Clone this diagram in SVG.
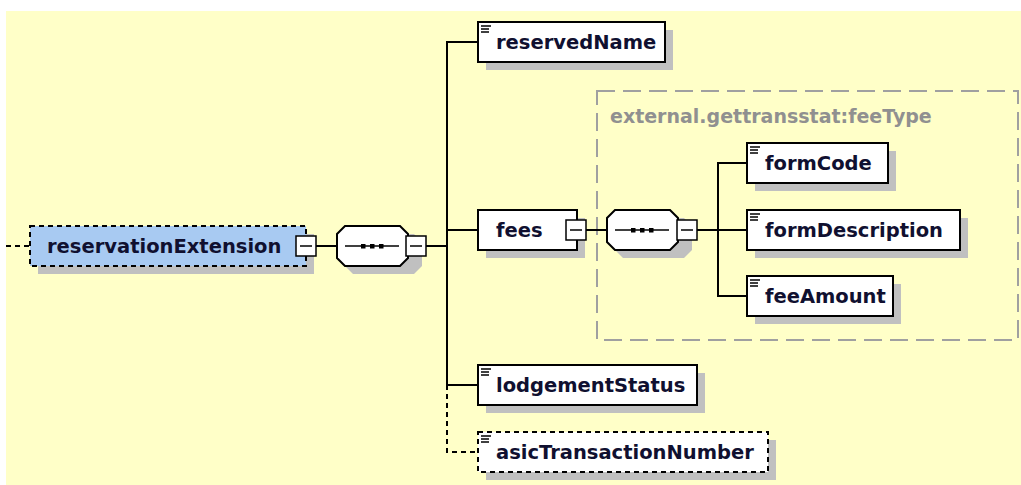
<svg xmlns="http://www.w3.org/2000/svg" width="1021" height="485" viewBox="0 0 1021 485">
<defs>
<style>
.bg{fill:#FFFFC8}
.box{fill:#FFFFFF;stroke:#000;stroke-width:2}
.opt{fill:#FFFFFF;stroke:#000;stroke-width:2;stroke-dasharray:5,4}
.root{fill:#A8CAF2;stroke:#000;stroke-width:2;stroke-dasharray:5,4}
.sh{fill:#C0C0C0}
.t{font-family:"DejaVu Sans",Verdana,sans-serif;font-weight:bold;font-size:19.5px;fill:#101030}
.lbl{font-family:"DejaVu Sans",Verdana,sans-serif;font-weight:bold;font-size:19px;fill:#909090}
.ln{stroke:#000;stroke-width:2;fill:none}
.dl{stroke:#000;stroke-width:2;fill:none;stroke-dasharray:5,4}
.ic{stroke:#000;stroke-width:1.5}
.btn{fill:#FFFFFF;stroke:#000;stroke-width:1.5}
.frame{fill:none;stroke:#A0A0A0;stroke-width:2;stroke-dasharray:18,8}
.dot{fill:#000}
</style>
<g id="icon"><line class="ic" x1="481" y1="26" x2="491" y2="26"/><line class="ic" x1="481" y1="29" x2="489" y2="29"/><line class="ic" x1="481" y1="32" x2="489" y2="32"/></g>
</defs>
<rect class="bg" x="6" y="11" width="1015" height="474"/>

<g id="frame-feeType">
<rect class="frame" x="597" y="91" width="421" height="249"/>
<text class="lbl" x="610" y="123">external.gettransstat:feeType</text>
</g>

<g id="connectors">
<line class="dl" x1="6" y1="246" x2="30" y2="246"/>
<line class="ln" x1="316" y1="246" x2="337" y2="246"/>
<line class="ln" x1="426" y1="246" x2="447" y2="246"/>
<line class="ln" x1="447" y1="41" x2="447" y2="385"/>
<path class="dl" d="M447 385 V452 H478"/>
<line class="ln" x1="446" y1="42" x2="478" y2="42"/>
<line class="ln" x1="447" y1="230" x2="478" y2="230"/>
<line class="ln" x1="447" y1="385" x2="478" y2="385"/>
<line class="ln" x1="586" y1="230" x2="607" y2="230"/>
<line class="ln" x1="697" y1="230" x2="718" y2="230"/>
<line class="ln" x1="718" y1="162" x2="718" y2="297"/>
<line class="ln" x1="717" y1="163" x2="747" y2="163"/>
<line class="ln" x1="718" y1="230" x2="747" y2="230"/>
<line class="ln" x1="717" y1="296" x2="747" y2="296"/>
</g>

<g id="node-reservationExtension">
<rect class="sh" x="38" y="234" width="276" height="40"/>
<rect class="root" x="30" y="226" width="276" height="40"/>
<text class="t" x="47" y="253">reservationExtension</text>
<rect class="btn" x="296" y="236" width="20" height="20"/>
<line class="ic" x1="300" y1="246" x2="312" y2="246"/>
</g>

<g id="node-seq1">
<polygon class="sh" points="353,234 414,234 422,242 422,266 414,274 353,274 345,266 345,242"/>
<polygon class="box" points="345,226 400,226 408,234 408,258 400,266 345,266 337,258 337,234"/>
<line class="ic" x1="345" y1="246" x2="399" y2="246"/>
<rect class="dot" x="361" y="244" width="4.5" height="4.5"/>
<rect class="dot" x="370" y="244" width="4.5" height="4.5"/>
<rect class="dot" x="379" y="244" width="4.5" height="4.5"/>
<rect class="btn" x="406" y="236" width="20" height="20"/>
<line class="ic" x1="410" y1="246" x2="422" y2="246"/>
</g>

<g id="node-reservedName">
<rect class="sh" x="486" y="30" width="187" height="40"/>
<rect class="box" x="478" y="22" width="187" height="40"/>
<use href="#icon"/>
<text class="t" x="496" y="49">reservedName</text>
</g>

<g id="node-fees">
<rect class="sh" x="486" y="218" width="99" height="40"/>
<rect class="box" x="478" y="210" width="99" height="40"/>
<text class="t" x="496" y="237">fees</text>
<rect class="btn" x="566" y="220" width="20" height="20"/>
<line class="ic" x1="570" y1="230" x2="582" y2="230"/>
</g>

<g id="node-seq2">
<polygon class="sh" points="623,218 684,218 692,226 692,250 684,258 623,258 615,250 615,226"/>
<polygon class="box" points="615,210 670,210 678,218 678,242 670,250 615,250 607,242 607,218"/>
<line class="ic" x1="615" y1="230" x2="669" y2="230"/>
<rect class="dot" x="631" y="228" width="4.5" height="4.5"/>
<rect class="dot" x="640" y="228" width="4.5" height="4.5"/>
<rect class="dot" x="649" y="228" width="4.5" height="4.5"/>
<rect class="btn" x="677" y="220" width="20" height="20"/>
<line class="ic" x1="681" y1="230" x2="693" y2="230"/>
</g>

<g id="node-formCode">
<rect class="sh" x="755" y="151" width="141" height="40"/>
<rect class="box" x="747" y="143" width="141" height="40"/>
<use href="#icon" x="269" y="121"/>
<text class="t" x="765" y="170">formCode</text>
</g>

<g id="node-formDescription">
<rect class="sh" x="755" y="218" width="213" height="40"/>
<rect class="box" x="747" y="210" width="213" height="40"/>
<use href="#icon" x="269" y="188"/>
<text class="t" x="765" y="237">formDescription</text>
</g>

<g id="node-feeAmount">
<rect class="sh" x="755" y="284" width="146" height="40"/>
<rect class="box" x="747" y="276" width="146" height="40"/>
<use href="#icon" x="269" y="254"/>
<text class="t" x="765" y="303">feeAmount</text>
</g>

<g id="node-lodgementStatus">
<rect class="sh" x="486" y="373" width="219" height="40"/>
<rect class="box" x="478" y="365" width="219" height="40"/>
<use href="#icon" y="343"/>
<text class="t" x="496" y="392">lodgementStatus</text>
</g>

<g id="node-asicTransactionNumber">
<rect class="sh" x="486" y="440" width="290" height="40"/>
<rect class="opt" x="478" y="432" width="290" height="40"/>
<use href="#icon" y="410"/>
<text class="t" x="496" y="459">asicTransactionNumber</text>
</g>
</svg>
